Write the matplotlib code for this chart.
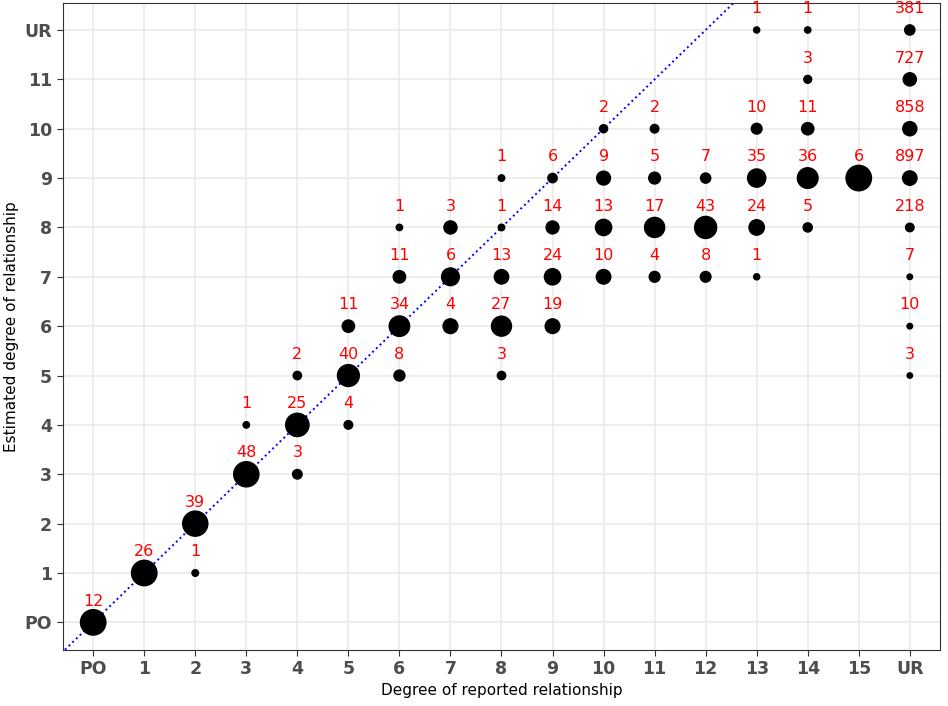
import matplotlib
matplotlib.use("Agg")
import matplotlib.pyplot as plt
import numpy as np

x_labels = ["PO"] + [str(i) for i in range(1, 16)] + ["UR"]
y_labels = ["PO"] + [str(i) for i in range(1, 12)] + ["UR"]

# (reported, estimated, count)
rep = ["PO", "1", "2", "2", "3", "3", "4", "4", "4", "5", "5", "5",
       "6", "6", "6", "6", "7", "7", "7",
       "8", "8", "8", "8", "8", "9", "9", "9", "9",
       "10", "10", "10", "10", "11", "11", "11", "11",
       "12", "12", "12", "13", "13", "13", "13", "13",
       "14", "14", "14", "14", "14", "15",
       "UR", "UR", "UR", "UR", "UR", "UR", "UR", "UR"]
est = ["PO", "1", "2", "1", "3", "4", "4", "5", "3", "5", "6", "4",
       "6", "7", "8", "5", "8", "7", "6",
       "9", "8", "7", "6", "5", "9", "8", "7", "6",
       "10", "9", "8", "7", "10", "9", "8", "7",
       "9", "8", "7", "UR", "10", "9", "8", "7",
       "UR", "11", "10", "9", "8", "9",
       "UR", "11", "10", "9", "8", "7", "6", "5"]
counts = [12, 26, 39, 1, 48, 1, 25, 2, 3, 40, 11, 4,
          34, 11, 1, 8, 3, 6, 4,
          1, 1, 13, 27, 3, 6, 14, 24, 19,
          2, 9, 13, 10, 2, 5, 17, 4,
          7, 43, 8, 1, 10, 35, 24, 1,
          1, 3, 11, 36, 5, 6,
          381, 727, 858, 897, 218, 7, 10, 3]

xi = np.array([x_labels.index(r) for r in rep])
yi = np.array([y_labels.index(e) for e in est])
counts = np.array(counts)
col_tot = {c: counts[xi == c].sum() for c in set(xi)}
frac = np.array([n / col_tot[c] for n, c in zip(counts, xi)])

fig = plt.figure(figsize=(9.48, 7.06), dpi=100)
ax = fig.add_axes([0.066, 0.08, 0.926, 0.916])
ax.set_xlim(-0.6, 16.6)
ax.set_ylim(-0.55, 12.55)
ax.set_axisbelow(True)
ax.grid(True, color="#ebebeb", lw=1.2)
t = np.linspace(-2, 20, 10)
ax.plot(t, t, ls=":", color="blue", lw=1.4, zorder=1)
ax.scatter(xi, yi, s=15 + 320 * frac, color="black", zorder=2)
for x, y, n in zip(xi, yi, counts):
    ax.text(x, y + 0.28, str(n), color="red", ha="center", va="bottom",
            fontsize=11.5, zorder=3, clip_on=False)

ax.set_xticks(range(len(x_labels)))
ax.set_xticklabels(x_labels)
ax.set_yticks(range(len(y_labels)))
ax.set_yticklabels(y_labels)
for lab in ax.get_xticklabels() + ax.get_yticklabels():
    lab.set_fontweight("bold")
    lab.set_color("#4d4d4d")
    lab.set_fontsize(12.5)
ax.tick_params(color="#333333", length=4)
for sp in ax.spines.values():
    sp.set_color("#333333")
ax.set_xlabel("Degree of reported relationship", fontsize=11)
ax.set_ylabel("Estimated degree of relationship", fontsize=11)
fig.savefig("out.png", dpi=100)
